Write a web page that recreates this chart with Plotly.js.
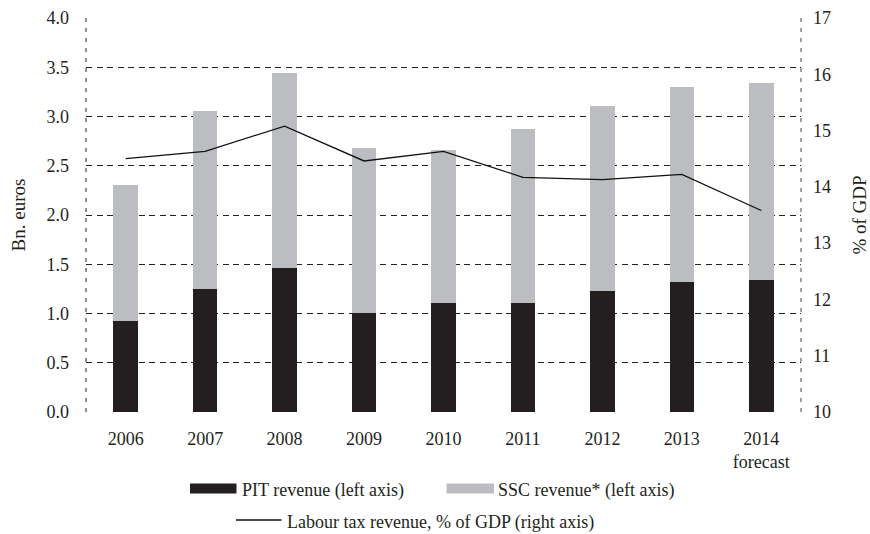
<!DOCTYPE html>
<html>
<head>
<meta charset="utf-8">
<script src="https://cdn.plot.ly/plotly-3.0.1.min.js"></script>
<style>html,body{margin:0;padding:0;background:#fff;}#chart{width:870px;height:534px;}</style>
</head>
<body>
<div id="chart"></div>
<script>
const years = ["2006","2007","2008","2009","2010","2011","2012","2013","2014"];
const tickLabels = ["2006","2007","2008","2009","2010","2011","2012","2013","2014<br>forecast"];
const pitRevenue = [0.92, 1.25, 1.465, 1.01, 1.11, 1.11, 1.23, 1.32, 1.34];
const sscRevenue = [1.38, 1.81, 1.975, 1.67, 1.55, 1.76, 1.88, 1.98, 2.00];
const laborTaxPctGdp = [14.50, 14.63, 15.08, 14.46, 14.63, 14.17, 14.13, 14.22, 13.58];
const legendLabels = ["PIT revenue (left axis)", "SSC revenue* (left axis)", "Labour tax revenue, % of GDP (right axis)"];

const FONT = "Liberation Serif, Times New Roman, serif";
const FS = 18;
const W = 870, H = 534;
const M = {l: 86, r: 69, t: 18, b: 122};
const pw = W - M.l - M.r, ph = H - M.t - M.b;
const px = x => (x - M.l) / pw;
const py = y => (H - M.b - y) / ph;

const traces = [
  {type: "bar", name: legendLabels[0], x: years, y: pitRevenue, width: 0.31,
   marker: {color: "#231f20", line: {width: 0}}, showlegend: false, hoverinfo: "y"},
  {type: "bar", name: legendLabels[1], x: years, y: sscRevenue, width: 0.31,
   marker: {color: "#bcbdc0", line: {width: 0}}, showlegend: false, hoverinfo: "y"},
  {type: "scatter", mode: "lines", name: legendLabels[2], x: years, y: laborTaxPctGdp, yaxis: "y2",
   line: {color: "#111", width: 1.3}, showlegend: false, hoverinfo: "y"}
];

const dashH = "6px,4.5px";
const dashV = "4px,6px";
const shapes = [
  {type: "line", xref: "paper", yref: "paper", x0: 0, x1: 0, y0: 0, y1: 1, layer: "below",
   line: {color: "#222", width: 1, dash: dashV}},
  {type: "line", xref: "paper", yref: "paper", x0: 1, x1: 1, y0: 0, y1: 1, layer: "below",
   line: {color: "#444", width: 1, dash: dashV}},
  // legend swatches
  {type: "rect", xref: "paper", yref: "paper", x0: px(190), x1: px(236.5), y0: py(493.5), y1: py(483.5),
   fillcolor: "#231f20", line: {width: 0}},
  {type: "rect", xref: "paper", yref: "paper", x0: px(446.5), x1: px(494), y0: py(493.5), y1: py(483.5),
   fillcolor: "#bcbdc0", line: {width: 0}},
  {type: "line", xref: "paper", yref: "paper", x0: px(236), x1: px(281.5), y0: py(520), y1: py(520),
   line: {color: "#111", width: 1.3}}
];

const legFont = {family: FONT, size: FS, color: "#231f20"};
const annotations = [
  {xref: "paper", yref: "paper", x: px(240), y: py(490), xanchor: "left", yanchor: "middle",
   text: legendLabels[0], showarrow: false, font: legFont},
  {xref: "paper", yref: "paper", x: px(496), y: py(490), xanchor: "left", yanchor: "middle",
   text: legendLabels[1], showarrow: false, font: legFont},
  {xref: "paper", yref: "paper", x: px(285), y: py(522), xanchor: "left", yanchor: "middle",
   text: legendLabels[2], showarrow: false, font: legFont}
];

const layout = {
  width: W, height: H,
  margin: M,
  paper_bgcolor: "#fff", plot_bgcolor: "#fff",
  barmode: "stack",
  font: {family: FONT, size: FS, color: "#231f20"},
  showlegend: false,
  xaxis: {
    type: "category", tickvals: years, ticktext: tickLabels,
    showgrid: false, zeroline: false, showline: false, ticks: "",
    ticklabelstandoff: 14, automargin: false,
    tickfont: {family: FONT, size: FS, color: "#231f20"}
  },
  yaxis: {
    range: [0, 4], tick0: 0, dtick: 0.5, tickformat: ".1f",
    showgrid: true, gridcolor: "#222", gridwidth: 1, griddash: dashH,
    zeroline: false, showline: false, ticks: "", ticklabelstandoff: 16,
    automargin: false,
    title: {text: "Bn. euros", standoff: 15, font: {family: FONT, size: 19, color: "#231f20"}},
    tickfont: {family: FONT, size: FS, color: "#231f20"}
  },
  yaxis2: {
    overlaying: "y", side: "right", range: [10, 17], tick0: 10, dtick: 1,
    showgrid: false, zeroline: false, showline: false, ticks: "", ticklabelstandoff: 11,
    automargin: false,
    title: {text: "% of GDP", standoff: 27, font: {family: FONT, size: 19, color: "#231f20"}},
    tickfont: {family: FONT, size: FS, color: "#231f20"}
  },
  shapes: shapes,
  annotations: annotations
};

Plotly.newPlot("chart", traces, layout, {displayModeBar: false, staticPlot: true});
</script>
</body>
</html>
